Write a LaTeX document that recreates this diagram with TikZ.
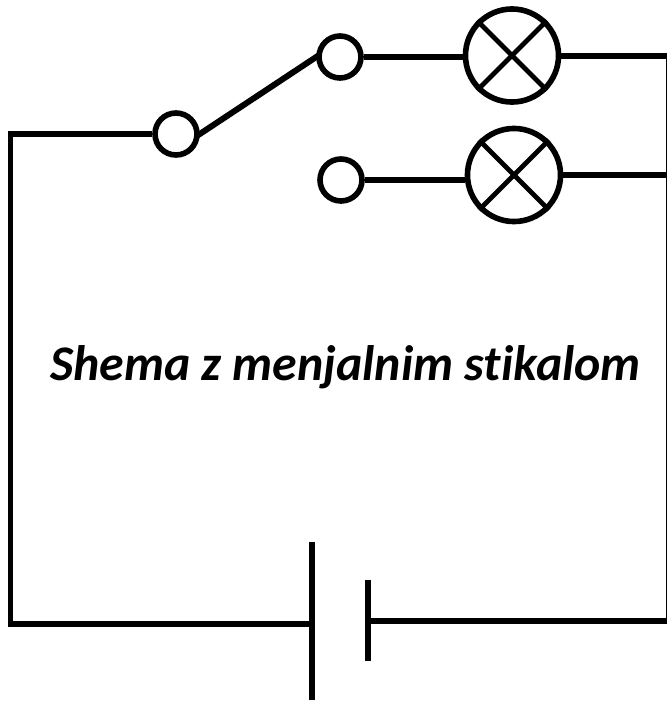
\documentclass[tikz,border=0pt]{standalone}
\usepackage{fontspec}
\setmainfont{Carlito}
\begin{document}
\begin{tikzpicture}[x=0.0375cm,y=-0.0375cm,
  wire/.style={line width=6.4pt,line cap=butt,line join=miter},
  cross/.style={line width=5pt,line cap=butt},
  term/.style={circle,draw,line width=6pt,minimum size=1.575cm,inner sep=0pt},
  lamp/.style={circle,draw,line width=6pt,minimum size=3.49cm,inner sep=0pt},
  lbl/.style={font=\itshape\bfseries\fontsize{53.2}{60}\selectfont,inner sep=0pt}]
\useasboundingbox (0,0) rectangle (667,701);
\node[term] (t1) at (176,134) {};
\node[term] (t2) at (340,57) {};
\node[term] (t3) at (341,180) {};
\node[lamp] (l1) at (512,55.5) {};
\node[lamp] (l2) at (514,175) {};
\coordinate (tl) at (10.5,134);
\coordinate (bl) at (10.5,623.5);
\coordinate (tr) at (669,55.5);
\coordinate (mr) at (669,175);
\coordinate (br) at (669,620.5);
\coordinate (b1) at (311.5,623.5);
\coordinate (b2) at (368,620.5);
\coordinate (b1t) at (311.5,542);
\coordinate (b1b) at (311.5,700);
\coordinate (b2t) at (368,580);
\coordinate (b2b) at (368,660.5);
\draw[wire,shorten <=-3pt,shorten >=-3pt] (t1.east) -- (t2.west);
\draw[wire] (t2.east) -- (t2.east -| l1.west);
\draw[wire] (t3.east) -- (t3.east -| l2.west);
\draw[wire] (l1.east) -- (tr);
\draw[wire] (l2.east) -- (mr);
\draw[wire] (t1.west) -- (tl) -- (bl) -- (b1);
\draw[wire] (tr) -- (br) -- (b2);
\draw[wire] (b1t) -- (b1b);
\draw[wire] (b2t) -- (b2b);
\draw[cross] (l1.45) -- (l1.225);
\draw[cross] (l1.135) -- (l1.315);
\draw[cross] (l2.45) -- (l2.225);
\draw[cross] (l2.135) -- (l2.315);
\node[lbl] (cap) at (345.5,367) {\addfontfeatures{Ligatures=NoCommon}Shema z menjalnim stikalom};
\end{tikzpicture}
\end{document}
